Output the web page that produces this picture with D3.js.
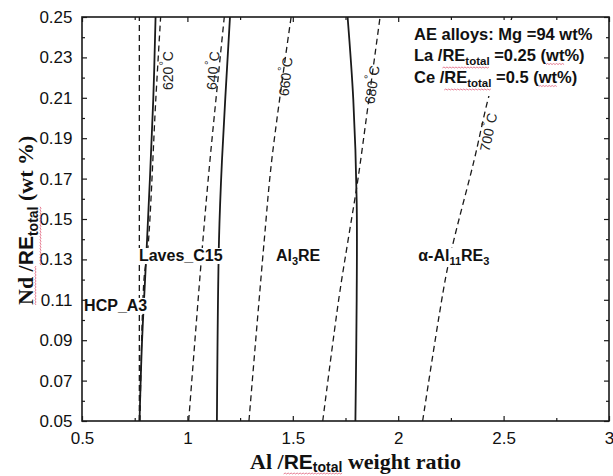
<!DOCTYPE html>
<html>
<head>
<meta charset="utf-8">
<script src="https://cdn.jsdelivr.net/npm/d3@7/dist/d3.min.js"></script>
<style>
  html, body { margin: 0; padding: 0; background: #fff; }
  svg { display: block; }
</style>
</head>
<body>
<svg id="chart" width="613" height="476"></svg>
<script>
// ---------------- data (Al/RE_total ratio, Nd/RE_total) ----------------
const xTicks = [0.5, 1, 1.5, 2, 2.5, 3];
const xTickLabels = ["0.5", "1", "1.5", "2", "2.5", "3"];
const xMinorTicks = [0.75, 1.25, 1.75, 2.25, 2.75];
const yTicks = [0.05, 0.07, 0.09, 0.11, 0.13, 0.15, 0.17, 0.19, 0.21, 0.23, 0.25];
const yTickLabels = ["0.05", "0.07", "0.09", "0.11", "0.13", "0.15", "0.17", "0.19", "0.21", "0.23", "0.25"];
const yMinorTicks = [0.06, 0.08, 0.10, 0.12, 0.14, 0.16, 0.18, 0.20, 0.22, 0.24];

// phase boundaries (solid)
const boundaryHcpLaves = [[0.773, 0.05], [0.785, 0.09], [0.807, 0.136], [0.838, 0.209], [0.849, 0.25]];
const boundaryLavesAl3 = [[1.140, 0.05], [1.150, 0.14], [1.164, 0.179], [1.202, 0.25]];
const boundaryAl3Al11 = [[1.797, 0.05], [1.803, 0.11], [1.803, 0.159], [1.787, 0.209], [1.760, 0.25]];

// liquidus isotherms (dashed)
const isoVertical = [[0.772, 0.05], [0.772, 0.25]];
const iso620 = [[0.775, 0.05], [0.794, 0.12], [0.813, 0.136], [0.850, 0.209], [0.873, 0.25]];
const iso640 = [[1.006, 0.05], [1.074, 0.14], [1.107, 0.179], [1.175, 0.25]];
const iso660 = [[1.292, 0.05], [1.365, 0.14], [1.400, 0.179], [1.492, 0.25]];
const iso680 = [[1.642, 0.05], [1.719, 0.111], [1.763, 0.14], [1.808, 0.169], [1.858, 0.207], [1.914, 0.25]];
const iso700 = [[2.116, 0.05], [2.225, 0.121], [2.265, 0.14], [2.360, 0.179], [2.428, 0.21], [2.540, 0.25]];

const solidCurves = [boundaryHcpLaves, boundaryLavesAl3, boundaryAl3Al11];
const dashedCurves = [isoVertical, iso620, iso640, iso660, iso680, iso700];

// isotherm labels: [temperature, Al/RE, Nd/RE, tilt]
const isoLabels = [
  ["620", 0.906, 0.2235, 0],
  ["640", 1.121, 0.2235, 5],
  ["660", 1.466, 0.2205, 6],
  ["680", 1.876, 0.2165, 8],
  ["700", 2.428, 0.193, 12]
];

// phase-field labels
const phaseLabels = [
  { parts: [["HCP_A3", false]], al: 0.51, nd: 0.1045 },
  { parts: [["Laves_C15", false]], al: 0.77, nd: 0.1292 },
  { parts: [["Al", false], ["3", true], ["RE", false]], al: 1.42, nd: 0.1292 },
  { parts: [["α-Al", false], ["11", true], ["RE", false], ["3", true]], al: 2.095, nd: 0.1292 }
];

// ---------------- drawing ----------------
const L = 82, R = 609, T = 17, B = 421;
const svg = d3.select("#chart");
const x = d3.scaleLinear().domain([0.5, 3]).range([L, R]);
const y = d3.scaleLinear().domain([0.05, 0.25]).range([B, T]);
const SANS = "'Liberation Sans', Arial, sans-serif";
const SERIF = "'Liberation Serif', 'Times New Roman', serif";

const line = d3.line().x(d => x(d[0])).y(d => y(d[1])).curve(d3.curveCatmullRom.alpha(0.5));

const plot = svg.append("g");
plot.selectAll("path.solid").data(solidCurves).join("path")
  .attr("class", "solid").attr("d", line)
  .attr("fill", "none").attr("stroke", "#1a1a1a").attr("stroke-width", 1.8);
plot.selectAll("path.dashed").data(dashedCurves).join("path")
  .attr("class", "dashed").attr("d", line)
  .attr("fill", "none").attr("stroke", "#1a1a1a").attr("stroke-width", 1.3)
  .attr("stroke-dasharray", "6,4");

// isotherm labels
isoLabels.forEach(([t, al, nd, tilt]) => {
  const tx = plot.append("text")
    .attr("transform", `translate(${x(al)},${y(nd)}) rotate(${-90 + tilt})`)
    .attr("text-anchor", "middle").attr("dominant-baseline", "central")
    .attr("font-family", SANS).attr("font-size", 14).attr("fill", "#222");
  tx.append("tspan").text(t);
  tx.append("tspan").attr("font-size", 11).attr("dy", -5).attr("dx", 1).text("°");
  tx.append("tspan").attr("dy", 5).text("C");
});

// phase labels with white background
phaseLabels.forEach(p => {
  const g = svg.append("g");
  const bg = g.append("rect").attr("fill", "#fff");
  const tx = g.append("text").attr("x", x(p.al)).attr("y", y(p.nd))
    .attr("font-family", SANS).attr("font-weight", "bold").attr("font-size", 16).attr("fill", "#111");
  let sub = false;
  p.parts.forEach(([s, isSub]) => {
    const ts = tx.append("tspan").text(s);
    if (isSub && !sub) { ts.attr("font-size", 11).attr("dy", 4); sub = true; }
    else if (!isSub && sub) { ts.attr("dy", -4); sub = false; }
    else if (isSub) ts.attr("font-size", 11);
  });
  const bb = tx.node().getBBox();
  bg.attr("x", bb.x - 1).attr("y", bb.y + 1).attr("width", bb.width + 2).attr("height", bb.height - 1);
});

// axes ticks (inward)
function addTicks(axisGen, transform) {
  const g = svg.append("g").attr("transform", transform).call(axisGen);
  g.select(".domain").remove();
  g.selectAll(".tick line").attr("stroke", "#1a1a1a").attr("stroke-width", 1.2);
  return g;
}
const gx = addTicks(d3.axisBottom(x).tickValues(xTicks).tickSize(-5).tickPadding(11)
  .tickFormat((d, i) => xTickLabels[i]), `translate(0,${B})`);
addTicks(d3.axisBottom(x).tickValues(xMinorTicks).tickSize(-3).tickFormat(""), `translate(0,${B})`);
addTicks(d3.axisTop(x).tickValues(xTicks).tickSize(-5).tickFormat(""), `translate(0,${T})`);
addTicks(d3.axisTop(x).tickValues(xMinorTicks).tickSize(-3).tickFormat(""), `translate(0,${T})`);
const gy = addTicks(d3.axisLeft(y).tickValues(yTicks).tickSize(-5).tickPadding(9.5)
  .tickFormat((d, i) => yTickLabels[i]), `translate(${L},0)`);
addTicks(d3.axisLeft(y).tickValues(yMinorTicks).tickSize(-3).tickFormat(""), `translate(${L},0)`);
addTicks(d3.axisRight(y).tickValues(yTicks).tickSize(-5).tickFormat(""), `translate(${R},0)`);
addTicks(d3.axisRight(y).tickValues(yMinorTicks).tickSize(-3).tickFormat(""), `translate(${R},0)`);
[gx, gy].forEach(g => g.selectAll(".tick text")
  .attr("font-family", SANS).attr("font-size", 17).attr("fill", "#111"));

// annotation box (white background)
const note = svg.append("g");
note.append("rect").attr("x", 410).attr("y", 20).attr("width", 192).attr("height", 76).attr("fill", "#fff");
const noteLines = [
  { y: 39.5, parts: [["AE alloys: Mg =94 wt%", 0]] },
  { y: 61, parts: [["La /", 0], ["RE", 0], ["total", 1], [" =0.25 (", 0], ["wt", 0], ["%)", 0]], wavy: [[1, 2], [4, 4]] },
  { y: 83, parts: [["Ce /", 0], ["RE", 0], ["total", 1], [" =0.5 (", 0], ["wt", 0], ["%)", 0]], wavy: [[1, 2], [4, 4]] }
];

function wavyPath(x0, x1, yy) {
  let d = `M${x0},${yy}`;
  let up = true;
  for (let xx = x0 + 1.5; xx <= x1; xx += 1.5) { d += `L${xx},${yy + (up ? -1 : 0)}`; up = !up; }
  return d;
}

function richText(parent, xPos, yPos, parts, opts) {
  const tx = parent.append("text").attr("x", xPos).attr("y", yPos)
    .attr("font-family", SANS).attr("font-weight", "bold").attr("font-size", opts.size).attr("fill", "#111");
  let sub = false;
  parts.forEach(([s, isSub]) => {
    const ts = tx.append("tspan").text(s);
    if (isSub) ts.attr("font-size", opts.subSize);
    if (isSub && !sub) { ts.attr("dy", opts.subDy); sub = true; }
    else if (!isSub && sub) { ts.attr("dy", -opts.subDy); sub = false; }
  });
  return tx;
}

noteLines.forEach(ln => {
  const tx = richText(note, 414, ln.y, ln.parts, { size: 16.5, subSize: 11.5, subDy: 4 });
  if (ln.wavy) {
    const node = tx.node();
    const offs = []; let c = 0;
    ln.parts.forEach(p => { offs.push(c); c += p[0].length; });
    ln.wavy.forEach(([a, b]) => {
      const s = offs[a], e = offs[b] + ln.parts[b][0].length - 1;
      const x0 = node.getStartPositionOfChar(s).x;
      const x1 = node.getEndPositionOfChar(e).x;
      note.append("path").attr("d", wavyPath(x0, x1, ln.y + (b === 2 ? 7 : 3.5)))
        .attr("fill", "none").attr("stroke", "#e0607a").attr("stroke-width", 0.8);
    });
  }
});

// x-axis title
const xt = svg.append("text").attr("x", 250).attr("y", 469)
  .attr("font-family", SERIF).attr("font-weight", "bold").attr("font-size", 22).attr("fill", "#111");
xt.append("tspan").text("Al /");
xt.append("tspan").attr("font-family", SANS).attr("font-size", 21).text("RE");
xt.append("tspan").attr("font-family", SANS).attr("font-size", 14).attr("dy", 3).text("total");
xt.append("tspan").attr("dy", -3).text(" weight ratio");
{
  const n = xt.node();
  const x0 = n.getStartPositionOfChar(4).x, x1 = n.getEndPositionOfChar(10).x;
  svg.append("path").attr("d", wavyPath(x0, x1, 474)).attr("fill", "none")
    .attr("stroke", "#e0607a").attr("stroke-width", 0.8);
}

// y-axis title
const yg = svg.append("g").attr("transform", "translate(33,305) rotate(-90)");
const yt = yg.append("text").attr("x", 0).attr("y", 0)
  .attr("font-family", SERIF).attr("font-weight", "bold").attr("font-size", 22).attr("fill", "#111");
yt.append("tspan").text("Nd /");
yt.append("tspan").attr("font-family", SANS).attr("font-size", 21).text("RE");
yt.append("tspan").attr("font-family", SANS).attr("font-size", 14).attr("dy", 5).text("total");
yt.append("tspan").attr("dy", -5).text(" (wt %)");
{
  const n = yt.node();
  const x0 = n.getStartPositionOfChar(0).x, x1 = n.getEndPositionOfChar(3).x;
  yg.append("path").attr("d", wavyPath(x0, x1, 3)).attr("fill", "none")
    .attr("stroke", "#e0607a").attr("stroke-width", 0.8);
  const a0 = n.getStartPositionOfChar(4).x, a1 = n.getEndPositionOfChar(10).x;
  yg.append("path").attr("d", wavyPath(a0, a1, 8)).attr("fill", "none")
    .attr("stroke", "#e0607a").attr("stroke-width", 0.8);
}

// frame
svg.append("rect").attr("x", L).attr("y", T).attr("width", R - L).attr("height", B - T)
  .attr("fill", "none").attr("stroke", "#1a1a1a").attr("stroke-width", 1.6);
</script>
</body>
</html>
